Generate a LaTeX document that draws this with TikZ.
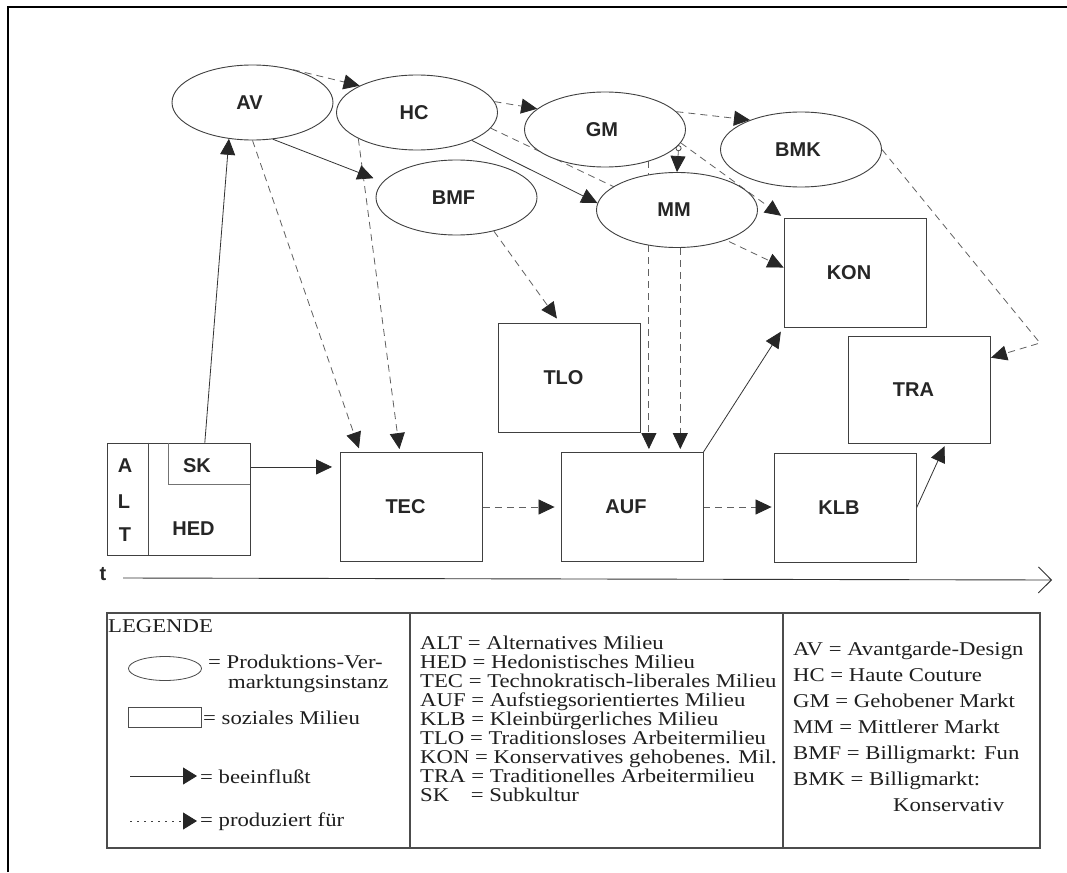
\documentclass[tikz,border=0pt]{standalone}
\usepackage{fontspec}
\newfontfamily\legendfont{Liberation Serif}[FakeStretch=1.165]
\newfontfamily\labelfont{Liberation Sans}
\usetikzlibrary{arrows.meta,shapes.geometric,backgrounds}

\begin{document}
\begin{tikzpicture}[x=1pt,y=-1pt,
  labelf/.style={font=\labelfont\bfseries\fontsize{20}{20}\selectfont, text=black!85},
  txt/.style={labelf, inner sep=0pt},
  instanz/.style={ellipse, draw=black!75, line width=0.9pt, fill=white,
    minimum width=161pt, minimum height=75pt, inner sep=0pt, labelf,
    execute at end node={\kern6pt}},
  milieu/.style={rectangle, draw=black!75, line width=0.9pt, fill=white,
    minimum width=142pt, minimum height=109pt, inner sep=0pt, labelf,
    execute at end node={\kern12pt}},
  influence/.style={draw=black!80, line width=0.8pt,
    -{Triangle[length=16pt,width=15pt,color=black!85]}},
  produce/.style={draw=black!62, line width=0.8pt, dash pattern=on 7pt off 5pt,
    -{Triangle[length=16pt,width=15pt,color=black!85]}},
  legtext/.style={font=\legendfont\fontsize{19.5}{19.5}\selectfont, text=black!88, inner sep=0pt},
  legline/.style={draw=black!70, line width=1.1pt}
]
\useasboundingbox (0,0) rectangle (1067,872);

% production / marketing instances
\node[instanz] (AV)  at (252.5,102.5) {AV};
\node[instanz] (HC)  at (417,112.5)   {HC};
\node[instanz] (GM)  at (605,129.5)   {GM};
\node[instanz] (BMK) at (801,149.5)   {BMK};
\node[instanz] (BMF) at (456.5,197.5) {BMF};
\node[instanz] (MM)  at (677,210)     {MM};

% social milieus
\node[milieu] (TEC) at (411.5,507)   {TEC};
\node[milieu] (AUF) at (632,507)     {AUF};
\node[milieu] (KLB) at (845,508)     {KLB};
\node[milieu] (TLO) at (569.5,377.5) {TLO};
\node[milieu] (KON) at (855,272.5)   {KON};
\node[milieu, minimum height=107pt] (TRA) at (919.5,389.5) {TRA};
\node[milieu, minimum width=143pt, minimum height=112pt] (ALT) at (178.5,499) {};

% inner structure of the ALT box
\draw[draw=black!70, line width=0.8pt] ([xshift=42pt]ALT.north west) -- ([xshift=42pt]ALT.south west);
\node[minimum width=81pt, minimum height=41pt, inner sep=0pt] (SKbox) at (209.5,463.5) {};
\draw[draw=black!55, line width=0.8pt] (SKbox.north west) -- (SKbox.south west) -- (SKbox.south east);
\node[txt] (A)   at (125,466)   {A};
\node[txt] (L)   at (124,502)   {L};
\node[txt] (T)   at (125,535)   {T};
\node[txt] (SK)  at (197,465.5) {SK};
\node[txt] (HED) at (193.5,528.5) {HED};

% time axis
\node[txt, anchor=base] (tlabel) at (103,580) {t};
\coordinate (axisstart) at (123,578);
\coordinate (axisend) at (1052,580);
\draw[draw=black!80, line width=0.9pt,
  -{Straight Barb[length=13pt,width=26pt,line width=0.9pt]}] (axisstart) -- (axisend);

% page frame
\draw[line width=2.4pt, black] (7.8,872) -- (7.8,7) -- (1067,7);

\begin{scope}[on background layer]
\fill[white] (0,0) rectangle (1067,872);
% produziert fuer
\draw[produce] (AV.39) -- (HC.155);
\draw[produce] (HC.8) -- (GM.163);
\draw[produce] (GM.14) -- (BMK.150);
\draw[produce] (HC.-12) -- (KON.176);
\draw[produce, shorten >=3pt] (GM.-10) -- (KON.north west);
\draw[produce, {Circle[open,length=6pt,color=black!70]}-{Triangle[length=16pt,width=15pt,color=black!85]}] (GM.-12) -- (MM.north);
\draw[produce, shorten >=3pt] (GM.-36.5) -- (GM.-36.5 |- AUF.north);
\draw[produce, shorten >=3pt] (MM.-85) -- (MM.-85 |- AUF.north);
\draw[produce, shorten >=5pt] (BMF.-42) -- (TLO.100);
\coordinate (bmkbend) at (1040,343);
\draw[produce] (BMK.0) -- (bmkbend) -- (TRA.24);
\draw[produce, shorten >=4pt] (AV.south) -- (TEC.133);
\draw[produce, shorten >=3pt] (HC.204) -- (TEC.102);
\draw[produce, shorten >=6pt] (TEC.east) -- (AUF.west);
\draw[produce, shorten >=2pt] (AUF.east) -- (AUF.east -| KLB.west);
% beeinflusst
\draw[influence, shorten >=10pt] (AV.-61) -- (BMF.168);
\draw[influence] (HC.-27) -- (MM.175);
\draw[influence] (ALT.65) -- (AV.237);
\draw[influence, shorten >=3pt] (SKbox.171) -- (SKbox.171 -| A.east);
\draw[influence, shorten >=8pt] (SKbox.-107) -- (SKbox.-107 |- HED.north);
\draw[influence, shorten >=8pt] (ALT.24) -- (ALT.24 -| TEC.west);
\draw[influence, shorten >=5pt] (AUF.north east) -- (KON.south west);
\draw[influence, shorten >=3pt] (KLB.east) -- (TRA.-64);
\end{scope}

% legend frame
\draw[legline] (107,613) rectangle (1040,848);
\draw[legline] (410,613) -- (410,848);
\draw[legline] (783,613) -- (783,848);

\node[legtext, anchor=base west] (legtitle) at (108,632) {LEGENDE};
\node[ellipse, draw=black!70, line width=0.8pt, minimum width=73pt, minimum height=24pt, inner sep=0pt] (legell) at (165,668.5) {};
\node[legtext, anchor=base west] (legelltxt) at (208,668) {= Produktions-Ver-};
\node[legtext, anchor=base west] (legelltxtb) at (228,688) {marktungsinstanz};
\node[rectangle, draw=black!70, line width=0.8pt, minimum width=73pt, minimum height=20pt, inner sep=0pt] (legrect) at (164.5,717) {};
\node[legtext, anchor=base west] (legrecttxt) at (203,724) {= soziales Milieu};
\coordinate (leginfl) at (130,776);
\node[legtext, anchor=base west] (leginfltxt) at (200,783) {= beeinflußt};
\draw[draw=black!80, line width=0.9pt, shorten >=3pt,
  -{Triangle[length=14pt,width=17pt,color=black!85]}] (leginfl) -- (leginfl -| leginfltxt.west);
\coordinate (legprod) at (130,821);
\node[legtext, anchor=base west] (legprodtxt) at (200,826) {= produziert für};
\draw[draw=black!75, line width=1pt, dash pattern=on 2pt off 5pt, shorten >=3pt,
  -{Triangle[length=14pt,width=17pt,color=black!85]}] (legprod) -- (legprod -| legprodtxt.west);

\foreach \entry [count=\i] in {ALT = Alternatives Milieu, HED = Hedonistisches Milieu,
  TEC = Technokratisch-liberales Milieu, AUF = Aufstiegsorientiertes Milieu,
  KLB = Kleinbürgerliches Milieu, TLO = Traditionsloses Arbeitermilieu,
  KON = Konservatives gehobenes. Mil., TRA = Traditionelles Arbeitermilieu,
  {SK\hspace{16pt} = Subkultur}}
  \node[legtext, anchor=base west] (mid\i) at (420,{649+19*(\i-1)}) {\entry};

\foreach \entry [count=\i] in {AV = Avantgarde-Design, HC = Haute Couture,
  GM = Gehobener Markt, MM = Mittlerer Markt, BMF = Billigmarkt: Fun,
  BMK = Billigmarkt:}
  \node[legtext, anchor=base west] (right\i) at (793,{655+26*(\i-1)}) {\entry};
\node[legtext, anchor=base west] (right7) at (893,811) {Konservativ};

\end{tikzpicture}
\end{document}
